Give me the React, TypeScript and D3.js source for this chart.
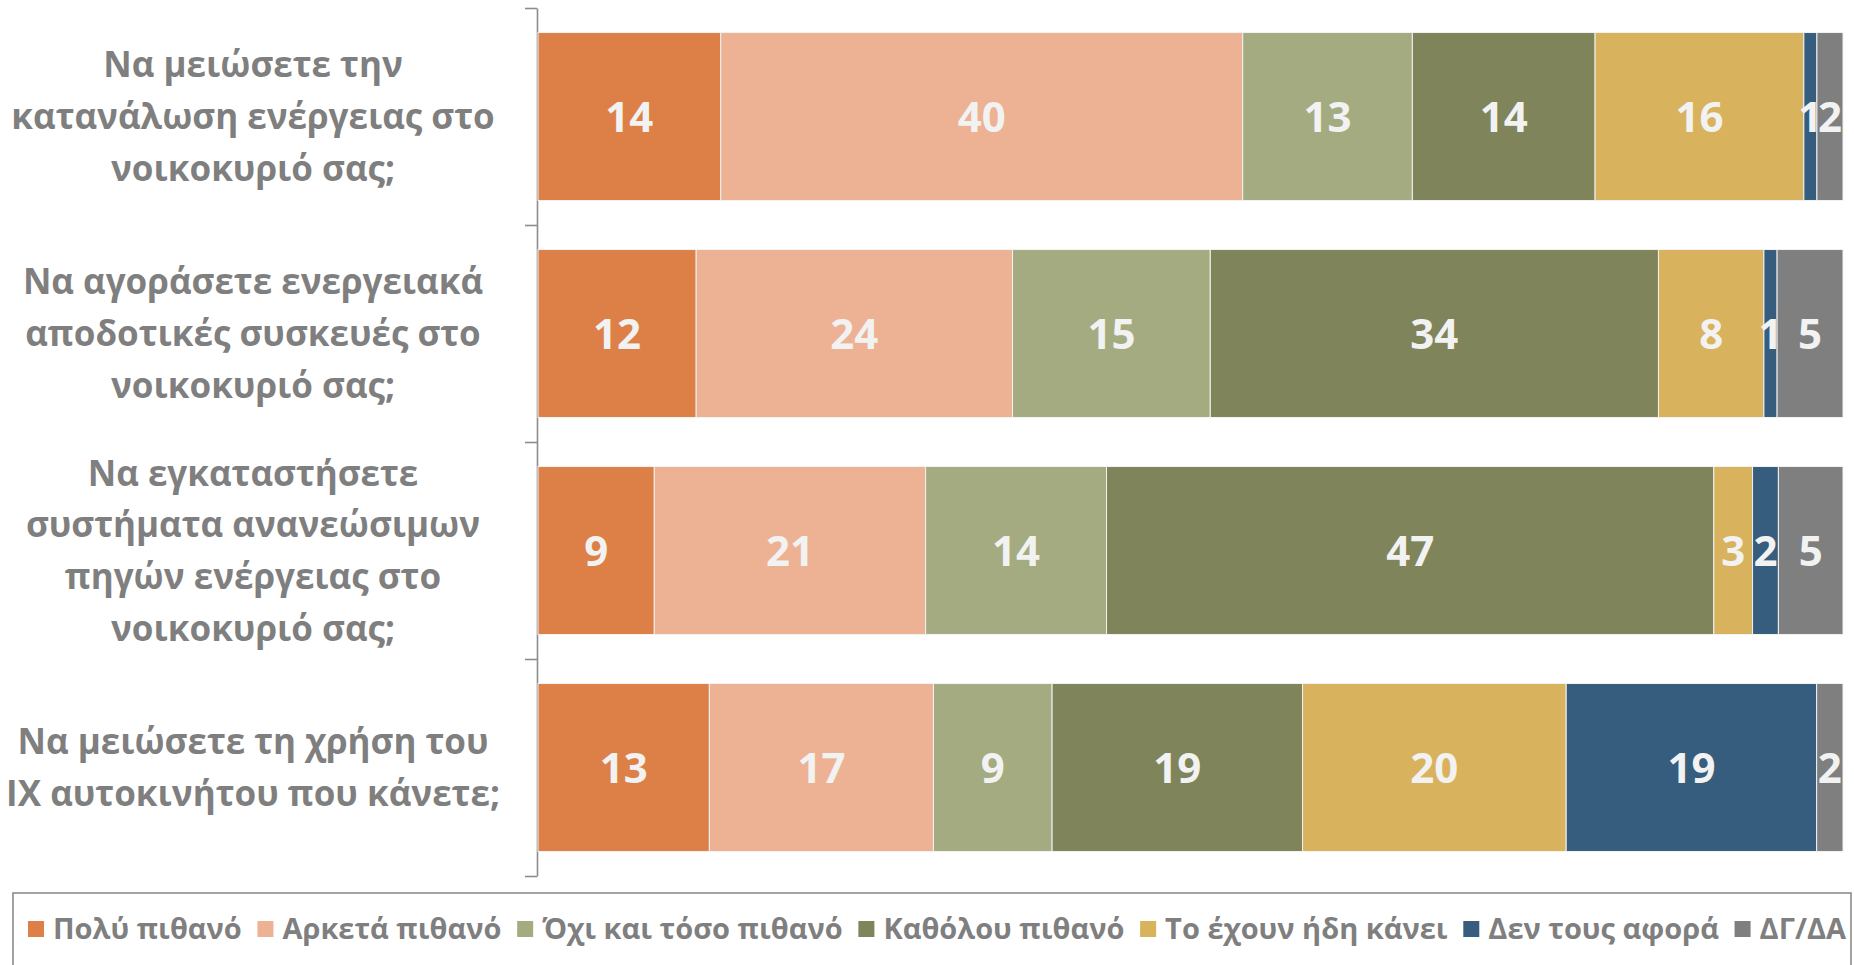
import React, { useEffect, useRef } from 'react';
import * as d3 from 'd3';

// questions, one array of wrapped lines each
const questions: string[][] = [
  ['Να μειώσετε την', 'κατανάλωση ενέργειας στο', 'νοικοκυριό σας;'],
  ['Να αγοράσετε ενεργειακά', 'αποδοτικές συσκευές στο', 'νοικοκυριό σας;'],
  ['Να εγκαταστήσετε', 'συστήματα ανανεώσιμων', 'πηγών ενέργειας στο', 'νοικοκυριό σας;'],
  ['Να μειώσετε τη χρήση του', 'ΙΧ αυτοκινήτου που κάνετε;'],
];

const seriesNames = [
  'Πολύ πιθανό',
  'Αρκετά πιθανό',
  'Όχι και τόσο πιθανό',
  'Καθόλου πιθανό',
  'Το έχουν ήδη κάνει',
  'Δεν τους αφορά',
  'ΔΓ/ΔΑ',
];
const seriesColors = ['#DD8047', '#ECB293', '#A5AB81', '#7F845A', '#D8B25C', '#365D7D', '#7F7F7F'];

// one value per question, in the order of `questions`
const veryLikely = [14, 12, 9, 13];
const fairlyLikely = [40, 24, 21, 17];
const notSoLikely = [13, 15, 14, 9];
const notAtAll = [14, 34, 47, 19];
const alreadyDone = [16, 8, 3, 20];
const notConcerned = [1, 1, 2, 19];
const dkNa = [2, 5, 5, 2];

const seriesValues = [veryLikely, fairlyLikely, notSoLikely, notAtAll, alreadyDone, notConcerned, dkNa];

const WIDTH = 1854;
const HEIGHT = 965;
const FONT = '"Open Sans", "Noto Sans", sans-serif';

const App: React.FC = () => {
  const ref = useRef<SVGSVGElement>(null);

  useEffect(() => {
    const svg = d3.select(ref.current);
    svg.selectAll('*').remove();

    const margin = { top: 8, right: 11, bottom: 89, left: 537 };
    const plotBottom = HEIGHT - margin.bottom;

    // table: one row per question, a column per series
    const rows = questions.map((q, i) => {
      const row: any = { index: i };
      seriesNames.forEach((s, k) => (row[s] = seriesValues[k][i]));
      return row;
    });

    const stack = d3.stack<any>().keys(seriesNames).offset(d3.stackOffsetExpand);
    const layers = stack(rows);

    const x = d3.scaleLinear().domain([0, 1]).range([margin.left + 1, WIDTH - margin.right]);
    const y = d3
      .scaleBand<number>()
      .domain(rows.map(r => r.index))
      .range([margin.top, plotBottom])
      .paddingInner(0.226)
      .paddingOuter(0.113);

    // category axis with ticks between bands
    const edges = d3.scaleLinear().domain([0, questions.length]).range([margin.top, plotBottom]);
    const axis = svg
      .append('g')
      .attr('transform', `translate(${margin.left},0)`)
      .call(
        d3
          .axisLeft(edges)
          .tickValues(d3.range(questions.length + 1))
          .tickFormat(() => '')
          .tickSize(12)
          .tickSizeOuter(0)
      );
    axis.selectAll('path, line').attr('stroke', '#8c8c8c').attr('stroke-width', 1.6);

    // bars
    const layerG = svg
      .selectAll('g.layer')
      .data(layers)
      .enter()
      .append('g')
      .attr('class', 'layer')
      .attr('fill', (_, k) => seriesColors[k]);

    layerG
      .selectAll('rect')
      .data(d => d)
      .enter()
      .append('rect')
      .attr('x', d => x(d[0]))
      .attr('y', d => y(d.data.index)!)
      .attr('width', d => x(d[1]) - x(d[0]))
      .attr('height', y.bandwidth())
      .attr('stroke', '#f2f2f2')
      .attr('stroke-width', 1);

    // data labels
    layers.forEach((layer, k) => {
      svg
        .append('g')
        .selectAll('text')
        .data(layer)
        .enter()
        .append('text')
        .attr('x', d => (x(d[0]) + x(d[1])) / 2)
        .attr('y', d => y(d.data.index)! + y.bandwidth() / 2)
        .attr('dy', '0.36em')
        .attr('text-anchor', 'middle')
        .attr('font-family', FONT)
        .attr('font-weight', 700)
        .attr('font-size', 42)
        .attr('fill', '#f2f2f2')
        .text(d => seriesValues[k][d.data.index]);
    });

    // category labels
    const lineHeight = 51.7;
    questions.forEach((lines, i) => {
      const cy = y(i)! + y.bandwidth() / 2;
      const t = svg
        .append('text')
        .attr('text-anchor', 'middle')
        .attr('font-family', FONT)
        .attr('font-weight', 700)
        .attr('font-size', 35)
        .attr('fill', '#7f7f7f');
      lines.forEach((line, j) => {
        t.append('tspan')
          .attr('x', 253)
          .attr('y', cy + (j - (lines.length - 1) / 2) * lineHeight)
          .attr('dy', '0.36em')
          .text(line);
      });
    });

    // legend
    const legendTop = 893;
    svg
      .append('rect')
      .attr('x', 13)
      .attr('y', legendTop)
      .attr('width', WIDTH - 16)
      .attr('height', 100)
      .attr('fill', 'none')
      .attr('stroke', '#8c8c8c')
      .attr('stroke-width', 1.6);

    const legendY = 929;
    const markerSize = 16;
    const markerGap = 9;
    const legendLeft = 28;
    const legendRight = 1846;

    const items = seriesNames.map((name, k) => {
      const g = svg.append('g');
      g.append('rect')
        .attr('x', 0)
        .attr('y', legendY - markerSize / 2)
        .attr('width', markerSize)
        .attr('height', markerSize)
        .attr('fill', seriesColors[k]);
      const text = g
        .append('text')
        .attr('x', markerSize + markerGap)
        .attr('y', legendY)
        .attr('dy', '0.36em')
        .attr('font-family', FONT)
        .attr('font-weight', 700)
        .attr('font-size', 29)
        .attr('fill', '#7f7f7f')
        .text(name);
      const w = markerSize + markerGap + (text.node() as SVGTextElement).getComputedTextLength();
      return { g, w };
    });

    const total = d3.sum(items, d => d.w);
    const spacing = (legendRight - legendLeft - total) / (items.length - 1);
    let cursor = legendLeft;
    items.forEach(item => {
      item.g.attr('transform', `translate(${cursor},0)`);
      cursor += item.w + spacing;
    });
  }, []);

  return (
    <svg
      ref={ref}
      width={WIDTH}
      height={HEIGHT}
      style={{ position: 'absolute', left: 0, top: 0, background: '#fff' }}
    />
  );
};

export default App;
